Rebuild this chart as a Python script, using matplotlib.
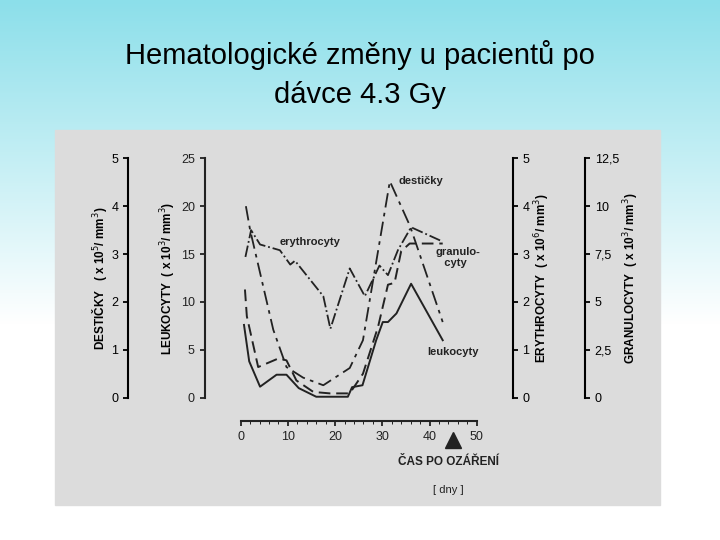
import numpy as np
import matplotlib
matplotlib.use("Agg")
import matplotlib.pyplot as plt

plt.rcParams['font.family'] = ['Liberation Sans', 'DejaVu Sans']

# data (days after irradiation, values on leukocyte scale 0-25)
leu_x = [0.7, 1.8, 4.1, 7.6, 9.7, 12.3, 16, 22.7, 23.6, 25.8, 28.7, 30.1, 31.2, 33, 36.1, 42.8]
leu_y = [7.6, 3.8, 1.15, 2.4, 2.4, 1.0, 0.1, 0.1, 1.1, 1.3, 6.0, 7.9, 7.9, 8.8, 11.9, 6.0]
gra_x = [0.9, 1.3, 3.7, 8, 9.7, 11.8, 15.4, 18.9, 23.1, 25.9, 29.1, 31.2, 32.6, 34, 35.8, 42.8]
gra_y = [11.3, 8.5, 3.2, 4.1, 3.9, 1.8, 0.6, 0.45, 0.45, 2.5, 7.4, 11.8, 12, 15.3, 16.1, 16.1]
ery_x = [1, 2.2, 4.1, 8.3, 10.5, 11.5, 17.5, 19, 23.1, 26.3, 29.4, 31.2, 33.3, 36.1, 42.8]
ery_y = [14.7, 17.5, 16, 15.4, 13.9, 14.3, 10.6, 7.2, 13.5, 10.6, 13.8, 12.8, 15.4, 17.8, 16.3]
des_x = [1.1, 2, 6.9, 9.7, 13.2, 17.5, 23.1, 25.9, 31.6, 35.9, 42.8]
des_y = [20, 17.5, 7.1, 3.2, 2.1, 1.3, 3.1, 6.0, 22.6, 17.9, 7.9]

W, H = 720, 540
fig = plt.figure(figsize=(7.2, 5.4), dpi=100)

bg = fig.add_axes([0, 0, 1, 1])
grad = np.linspace(0, 1, 256)[:, None]
c1 = np.array([0x8c, 0xdf, 0xea]) / 255
c2 = np.array([1, 1, 1])
t = np.clip(grad / 0.6, 0, 1)
img = c1 * (1 - t)[..., None] + c2 * t[..., None]
bg.imshow(np.repeat(img, 2, axis=1), aspect='auto', extent=[0, 1, 0, 1])
bg.axis('off')
bg.add_patch(plt.Rectangle((55 / W, 1 - 505 / H), 605 / W, 375 / H, color='#dcdcdc', zorder=2))
bg.set_xlim(0, 1); bg.set_ylim(0, 1)

fig.text(0.5, 1 - 55 / H, "Hematologické změny u pacientů po", ha='center', va='center', fontsize=21)
fig.text(0.5, 1 - 95 / H, "dávce 4.3 Gy", ha='center', va='center', fontsize=21)

x0, x1, y0, y1 = 240.7, 476.7, 397.7, 158.3
ax = fig.add_axes([x0 / W, 1 - y0 / H, (x1 - x0) / W, (y0 - y1) / H])
ax.patch.set_alpha(0)
ax.set_xlim(0, 50); ax.set_ylim(0, 25)
k = '#222222'
ax.plot(leu_x, leu_y, '-', color=k, lw=1.4)
ax.plot(gra_x, gra_y, '--', color=k, lw=1.4, dashes=(6, 3))
ax.plot(ery_x, ery_y, '-.', color=k, lw=1.3)
ax.plot(des_x, des_y, '-.', color=k, lw=1.3, dashes=(8, 3, 2, 3))
for s in ['top', 'right']:
    ax.spines[s].set_visible(False)
ax.spines['left'].set_position(('outward', 26))
ax.spines['bottom'].set_position(('outward', 17))
for s in ['left', 'bottom']:
    ax.spines[s].set_linewidth(1.5); ax.spines[s].set_color(k)
ax.set_xticks([0, 10, 20, 30, 40, 50])
ax.set_xticks(np.arange(0, 50, 2), minor=True)
ax.set_yticks([0, 5, 10, 15, 20, 25])
ax.tick_params(labelsize=9, colors=k, width=1.3)
ax.set_ylabel("LEUKOCYTY  ( x 10$^3$/ mm$^3$)", fontsize=8.5, fontweight='bold', labelpad=2)
ax.text(33.5, 22.3, "destičky", fontsize=8, fontweight='bold', color=k)
ax.text(8.3, 15.9, "erythrocyty", fontsize=8, fontweight='bold', color=k)
ax.text(41.2, 13.8, "granulo-\n   cyty", fontsize=8, fontweight='bold', color=k, linespacing=1.1)
ax.text(39.5, 4.5, "leukocyty", fontsize=8, fontweight='bold', color=k)
ax.text(44, -6.7, "ČAS PO OZÁŘENÍ", fontsize=8.5, fontweight='bold', color=k, ha='center', va='center')
ax.text(44, -9.6, "[ dny ]", fontsize=8, color=k, ha='center', va='center')
ax.plot([45], [-4.4], marker='^', ms=11, color=k, clip_on=False)

ax2 = ax.twinx()
ax2.set_ylim(0, 5)
ax2.spines['right'].set_visible(False); ax2.spines['top'].set_visible(False)
ax2.spines['bottom'].set_visible(False)
ax2.yaxis.set_label_position('left'); ax2.yaxis.set_ticks_position('left')
ax2.spines['left'].set_position(('outward', 81))
ax2.spines['left'].set_linewidth(1.5)
ax2.set_yticks(range(6))
ax2.tick_params(labelsize=9, width=1.3)
ax2.set_ylabel("DESTIČKY   ( x 10$^5$/ mm$^3$)", fontsize=8.5, fontweight='bold', labelpad=2)

ax3 = ax.twinx()
ax3.set_ylim(0, 5)
for s in ['left', 'top', 'bottom']:
    ax3.spines[s].set_visible(False)
ax3.spines['right'].set_position(('outward', 26))
ax3.spines['right'].set_linewidth(1.5)
ax3.set_yticks(range(6))
ax3.tick_params(labelsize=9, width=1.3)
ax3.set_ylabel("ERYTHROCYTY  ( x 10$^6$/ mm$^3$)", fontsize=8.5, fontweight='bold', labelpad=2)

ax4 = ax.twinx()
ax4.set_ylim(0, 12.5)
for s in ['left', 'top', 'bottom']:
    ax4.spines[s].set_visible(False)
ax4.spines['right'].set_position(('outward', 78))
ax4.spines['right'].set_linewidth(1.5)
ax4.set_yticks([0, 2.5, 5, 7.5, 10, 12.5])
ax4.set_yticklabels(['0', '2,5', '5', '7,5', '10', '12,5'])
ax4.tick_params(labelsize=9, width=1.3)
ax4.set_ylabel("GRANULOCYTY  ( x 10$^3$/ mm$^3$)", fontsize=8.5, fontweight='bold', labelpad=2)

fig.savefig("out.png", dpi=100)
